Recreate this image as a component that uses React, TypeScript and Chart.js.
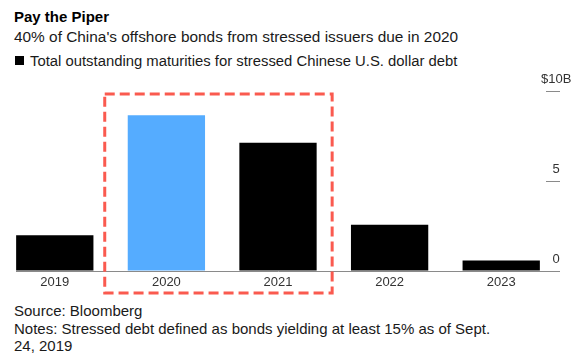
import React, { useEffect, useRef } from "react";
import { Chart, registerables } from "chart.js";

Chart.register(...registerables);

const YEARS = ["2019", "2020", "2021", "2022", "2023"];
const MATURITIES = [1.98, 8.65, 7.13, 2.57, 0.58];
const HIGHLIGHT_YEAR = "2020";
const BOX_YEARS = ["2020", "2021"];
const Y_TICKS = [0, 5, 10];
const Y_MAX = 10;

const FONT = "'Liberation Sans', Arial, Helvetica, sans-serif";
const BLUE = "#55acff";
const RED = "#fa5a4f";
const AXIS_GRAY = "#8a8a8a";

const boxPlugin = {
  id: "highlightBox",
  afterDraw(chart: any) {
    const meta = chart.getDatasetMeta(0);
    const i0 = YEARS.indexOf(BOX_YEARS[0]);
    const i1 = YEARS.indexOf(BOX_YEARS[1]);
    const b0 = meta.data[i0];
    const b1 = meta.data[i1];
    if (!b0 || !b1) return;
    const yScale = chart.scales.y;
    const left = b0.x - b0.width / 2 - 23;
    const right = b1.x + b1.width / 2 + 15.5;
    const top = yScale.getPixelForValue(Y_MAX) + 3;
    const bottom = chart.chartArea.bottom + 22;
    const ctx = chart.ctx;
    ctx.save();
    ctx.strokeStyle = RED;
    ctx.lineWidth = 3;
    ctx.setLineDash([10, 5]);
    ctx.strokeRect(left, top, right - left, bottom - top);
    ctx.restore();
  },
};

function BarChart() {
  const ref = useRef<HTMLCanvasElement | null>(null);
  useEffect(() => {
    if (!ref.current) return;
    const chart = new Chart(ref.current, {
      type: "bar",
      data: {
        datasets: [
          {
            data: MATURITIES.map((v, i) => ({ x: i, y: v })),
            backgroundColor: YEARS.map((y) => (y === HIGHLIGHT_YEAR ? BLUE : "#000000")),
            borderWidth: 0,
            categoryPercentage: 1,
            barPercentage: 0.6926,
          },
        ],
      },
      options: {
        animation: false,
        responsive: false,
        maintainAspectRatio: false,
        layout: { padding: { top: 21, left: 16, right: 0, bottom: 0 } },
        plugins: { legend: { display: false }, tooltip: { enabled: false } },
        scales: {
          x: {
            type: "linear",
            offset: false,
            min: -0.3475,
            max: YEARS.length - 1 + 0.3475,
            afterBuildTicks: (scale: any) => {
              scale.ticks = YEARS.map((_, i) => ({ value: i }));
            },
            afterFit: (scale: any) => {
              scale.height = 29;
            },
            grid: { display: false, drawTicks: false, offset: false },
            border: { display: true, color: AXIS_GRAY, width: 1 },
            ticks: {
              autoSkip: false,
              maxRotation: 0,
              padding: 4,
              color: "#333333",
              font: { family: FONT, size: 13 },
              callback: (v: any) => YEARS[v] ?? "",
            },
          },
          y: {
            position: "right",
            min: 0,
            max: Y_MAX,
            afterBuildTicks: (scale: any) => {
              scale.ticks = Y_TICKS.map((v) => ({ value: v }));
            },
            afterFit: (scale: any) => {
              scale.width = 40;
            },
            grid: {
              drawOnChartArea: false,
              drawTicks: true,
              tickLength: 20,
              tickColor: AXIS_GRAY,
              tickWidth: 1,
              tickBorderDash: (ctx: any) => (ctx.tick && ctx.tick.value === 0 ? [] : [14, 6]),
              tickBorderDashOffset: (ctx: any) => (ctx.tick && ctx.tick.value === 0 ? 0 : 14),
            },
            border: { display: false },
            ticks: {
              crossAlign: "center",
              padding: -19,
              labelOffset: -12,
              color: "#333333",
              font: { family: FONT, size: 13 },
              callback: (v: any) => (v === Y_MAX ? "$" + v + "B" : String(v)),
            },
          },
        },
      },
      plugins: [boxPlugin],
    });
    return () => chart.destroy();
  }, []);
  return (
    <canvas
      ref={ref}
      width={580}
      height={230}
      style={{ position: "absolute", left: 0, top: 70, width: 580, height: 230 }}
    />
  );
}

export default function App() {
  const text: React.CSSProperties = {
    position: "absolute",
    left: 14,
    fontFamily: FONT,
    fontSize: 15,
    lineHeight: "18px",
    whiteSpace: "nowrap",
    margin: 0,
  };
  return (
    <div style={{ position: "absolute", left: 0, top: 0, width: 580, height: 364, background: "#fff", overflow: "hidden" }}>
      <div style={{ ...text, top: 8, fontWeight: "bold", color: "#000" }}>Pay the Piper</div>
      <div style={{ ...text, top: 28, fontSize: 15.4, color: "#1a1a1a" }}>
        40% of China's offshore bonds from stressed issuers due in 2020
      </div>
      <div style={{ ...text, top: 51.5, fontSize: 14.85, color: "#1a1a1a", display: "flex", alignItems: "center" }}>
        <span style={{ display: "inline-block", width: 9, height: 9, background: "#000", marginRight: 6, marginLeft: 1 }} />
        <span>Total outstanding maturities for stressed Chinese U.S. dollar debt</span>
      </div>
      <BarChart />
      <div style={{ ...text, top: 302, lineHeight: "17.5px", color: "#1a1a1a" }}>
        Source: Bloomberg
        <br />
        Notes: Stressed debt defined as bonds yielding at least 15% as of Sept.
        <br />
        24, 2019
      </div>
    </div>
  );
}
